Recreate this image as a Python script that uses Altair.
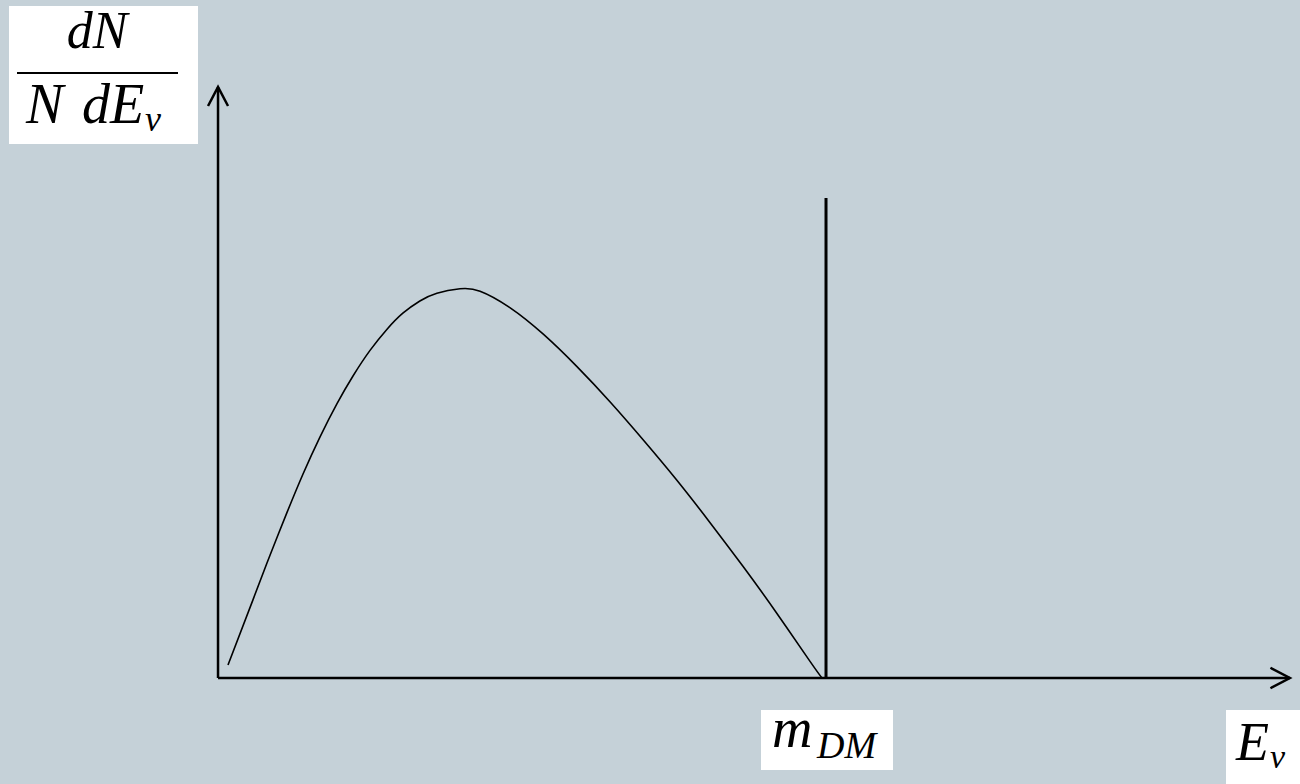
import altair as alt
import pandas as pd

# Neutrino energy spectrum dN/(N dE_nu) against E_nu / m_DM (arbitrary units)
energy = [0.0164, 0.0576, 0.0855, 0.1135, 0.1398, 0.1678, 0.1957, 0.222, 0.25,
          0.278, 0.304, 0.332, 0.360, 0.398, 0.431, 0.480, 0.535, 0.590, 0.645,
          0.6995, 0.7544, 0.809, 0.864, 0.919, 0.974, 0.9934]
spectrum = [0.0325, 0.196, 0.307, 0.414, 0.510, 0.603, 0.686, 0.755, 0.819,
            0.872, 0.912, 0.9425, 0.962, 0.973, 0.967, 0.926, 0.8595, 0.779, 0.690,
            0.595, 0.495, 0.389, 0.278, 0.162, 0.041, 0.0]

# monochromatic line at E_nu = m_DM
line_energy = [1.0]
line_height = [1.2]

# reach of the drawn axes (arrow tips)
x_axis_end = 1.763
y_axis_end = 1.4775

BG = "#c5d1d8"
INK = "black"
FONT = "Liberation Serif"

xs = alt.Scale(domain=[-0.3586, 1.7796], nice=False, zero=False)
ys = alt.Scale(domain=[-0.265, 1.695], nice=False, zero=False)

curve_df = pd.DataFrame({"E": energy, "f": spectrum})
line_df = pd.DataFrame({"E": line_energy, "E2": line_energy, "f": [0.0], "f2": line_height})
axes_df = pd.DataFrame({
    "E": [0.0, 0.0], "E2": [x_axis_end, 0.0],
    "f": [0.0, 0.0], "f2": [0.0, y_axis_end],
})
tip_up = pd.DataFrame({"E": [0.0], "f": [y_axis_end]})
tip_right = pd.DataFrame({"E": [x_axis_end], "f": [0.0]})
one = pd.DataFrame({"k": [0]})


def X(field="E"):
    return alt.X(f"{field}:Q", scale=xs, axis=None)


def Y(field="f"):
    return alt.Y(f"{field}:Q", scale=ys, axis=None)


axes = alt.Chart(axes_df).mark_rule(color=INK, strokeWidth=2.5).encode(
    x=X(), x2="E2:Q", y=Y(), y2="f2:Q"
)

arrow_up = alt.Chart(tip_up).mark_point(
    shape="M-1,1.9L0,0L1,1.9", size=400, filled=False, stroke=INK,
    strokeWidth=2.5, opacity=1
).encode(x=X(), y=Y())

arrow_right = alt.Chart(tip_right).mark_point(
    shape="M-1.9,-1L0,0L-1.9,1", size=420, filled=False, stroke=INK,
    strokeWidth=2.5, opacity=1
).encode(x=X(), y=Y())

curve = alt.Chart(curve_df).mark_line(
    color=INK, strokeWidth=1.6, interpolate="natural"
).encode(x=X(), y=Y())

delta = alt.Chart(line_df).mark_rule(color=INK, strokeWidth=3).encode(
    x=X(), x2="E2:Q", y=Y(), y2="f2:Q"
)


def box(x0, x1, y0, y1):
    return alt.Chart(one).mark_rect(color="white").encode(
        x=alt.value(x0), x2=alt.value(x1), y=alt.value(y0), y2=alt.value(y1)
    )


def label(text, x, y, size, align="left"):
    return alt.Chart(one).mark_text(
        text=text, font=FONT, fontStyle="italic", fontSize=size,
        color=INK, align=align, baseline="alphabetic"
    ).encode(x=alt.value(x), y=alt.value(y))


frac_bar = alt.Chart(one).mark_rule(color=INK, strokeWidth=2).encode(
    x=alt.value(17), x2=alt.value(178), y=alt.value(73)
)

ylabel = [
    box(9, 198, 6, 144),
    label("dN", 97, 48, 52, align="center"),
    frac_bar,
    label("N", 26, 123, 56),
    label("dE", 82, 123, 56),
    label("ν", 145, 131, 36),
]

mlabel = [
    box(761, 893, 710, 770),
    label("m", 772, 747, 56),
    label("DM", 817, 758, 38),
]

elabel = [
    box(1226, 1300, 710, 784),
    label("E", 1236, 760, 54),
    label("ν", 1270, 768, 34),
]

chart = alt.layer(
    axes, arrow_up, arrow_right, curve, delta, *ylabel, *mlabel, *elabel
).properties(
    width=1300, height=784, autosize="none", padding=0, background=BG
).configure_view(strokeWidth=0)

chart.save("out.html", embed_options={"renderer": "svg", "actions": False})
